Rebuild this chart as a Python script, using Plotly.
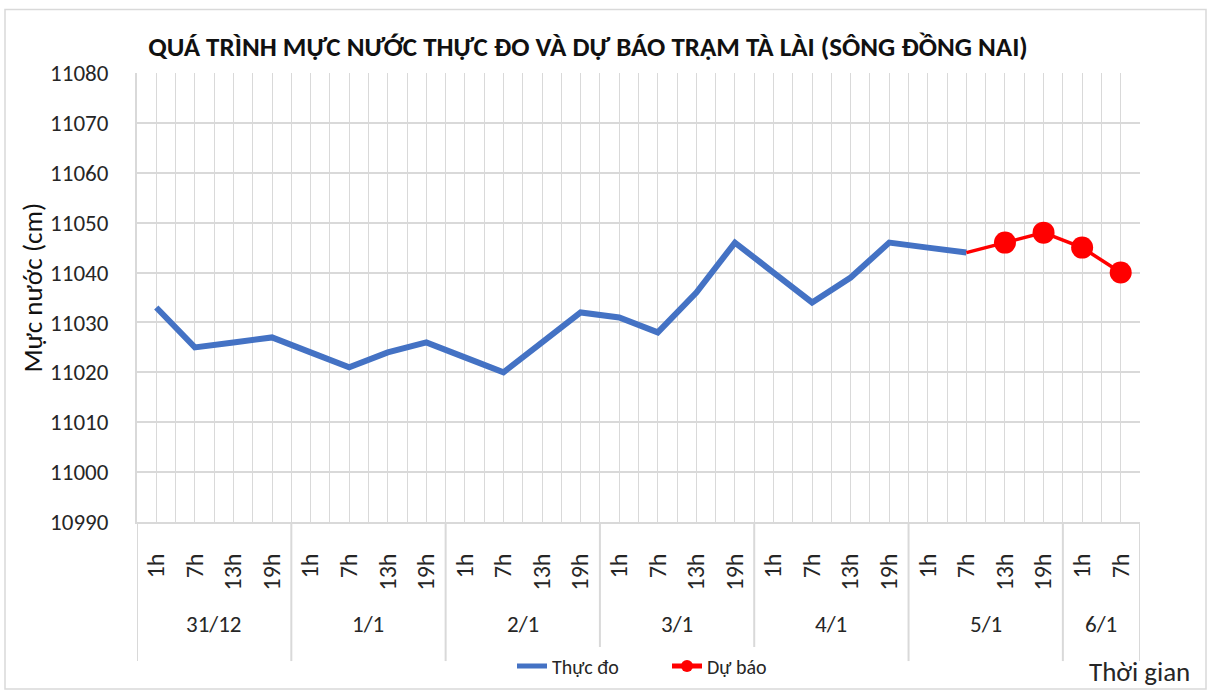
import plotly.graph_objects as go

# ---- data ----
days = ["31/12", "1/1", "2/1", "3/1", "4/1", "5/1", "6/1"]
hours_per_day = [4, 4, 4, 4, 4, 4, 2]
hour_names = ["1h", "7h", "13h", "19h"]
observed = [11033, 11025, 11026, 11027,
            11024, 11021, 11024, 11026,
            11023, 11020, 11026, 11032,
            11031, 11028, 11036, 11046,
            11040, 11034, 11039, 11046,
            11045, 11044]
forecast = [11044, 11046, 11048, 11045, 11040]
forecast_start = 21  # index of 5/1 7h

hour_labels = []
for n in hours_per_day:
    hour_labels += hour_names[:n]
N = len(hour_labels)
xs = list(range(N))

FONT = "Carlito, 'Liberation Sans Narrow', 'Liberation Sans', Arial, sans-serif"
GRID = "#d9d9d9"
TXT = "#262626"

fig = go.Figure()
fig.add_trace(go.Scatter(
    x=xs[:len(observed)], y=observed, mode="lines", name="Thực đo",
    line=dict(color="#4472c4", width=6)))
fx = xs[forecast_start:forecast_start + len(forecast)]
fig.add_trace(go.Scatter(
    x=fx, y=forecast, mode="lines+markers", name="Dự báo",
    line=dict(color="#ff0000", width=3.5),
    marker=dict(color="#ff0000", opacity=1, line=dict(width=0),
                size=[0] + [22] * (len(forecast) - 1))))

# divider positions between days
bounds = [-0.5]
for n in hours_per_day:
    bounds.append(bounds[-1] + n)

PW, PH = 1003, 452
shapes = []
for b in bounds:
    shapes.append(dict(type="line", xref="x", yref="paper", x0=b, x1=b, y0=0, y1=(525 - 665) / PH,
                       line=dict(color=GRID, width=2)))
# outer chart border
shapes.append(dict(type="rect", xref="paper", yref="paper",
                   x0=(5 - 137) / PW, x1=(1206 - 137) / PW,
                   y0=(525 - 693) / PH, y1=(525 - 9) / PH,
                   line=dict(color="#d9d9d9", width=1.5)))

annotations = []
start = 0
for d, n in zip(days, hours_per_day):
    annotations.append(dict(x=start + (n - 1) / 2, y=(525 - 628) / PH, xref="x", yref="paper",
                            text=d, showarrow=False, xanchor="center", yanchor="middle",
                            font=dict(family=FONT, size=23, color=TXT)))
    start += n
annotations.append(dict(x=(33 - 137) / PW, y=(525 - 289) / PH, xref="paper", yref="paper",
                        text="Mực nước (cm)", textangle=-90, showarrow=False,
                        xanchor="center", yanchor="middle",
                        font=dict(family=FONT, size=27, color="#111")))
annotations.append(dict(x=(1139 - 137) / PW, y=(525 - 676) / PH, xref="paper", yref="paper",
                        text="Thời gian", showarrow=False, xanchor="center", yanchor="middle",
                        font=dict(family=FONT, size=27, color=TXT)))

fig.update_layout(
    width=1211, height=698,
    margin=dict(l=137, r=71, t=73, b=173),
    paper_bgcolor="white", plot_bgcolor="white",
    font=dict(family=FONT, color=TXT),
    title=dict(text="<b>QUÁ TRÌNH MỰC NƯỚC THỰC ĐO VÀ DỰ BÁO TRẠM TÀ LÀI (SÔNG ĐỒNG NAI)</b>",
               x=588 / 1211, xanchor="center", y=1 - 47 / 698, yanchor="middle",
               font=dict(family=FONT, size=27, color="#111")),
    xaxis=dict(range=[-0.5, N - 0.5], tickmode="array", tickvals=xs, ticktext=hour_labels,
               tickangle=-90, showgrid=True, gridcolor=GRID, gridwidth=1,
               showline=True, linecolor=GRID, linewidth=2, zeroline=False,
               ticks="", ticklabelstandoff=20,
               tickfont=dict(family=FONT, size=24, color=TXT),
               minor=dict(tickvals=[b + 0.5 for b in range(-1, N)], showgrid=True,
                          gridcolor=GRID, gridwidth=1, ticks="")),
    yaxis=dict(range=[10990, 11080], dtick=10, tick0=10990, tickformat="d", showgrid=True,
               gridcolor=GRID, gridwidth=1.5, showline=True, linecolor=GRID, linewidth=2,
               zeroline=False, ticks="", ticklabelstandoff=22,
               tickfont=dict(family=FONT, size=23, color=TXT)),
    legend=dict(orientation="h", x=(512 - 137) / PW, xanchor="left",
                y=(525 - 670) / PH, yanchor="middle",
                entrywidth=110, entrywidthmode="pixels",
                font=dict(family=FONT, size=20, color=TXT), itemsizing="constant"),
    shapes=shapes, annotations=annotations,
)

fig.write_html("out.html", config={"displayModeBar": False},
               post_script="document.body.style.margin='0';")
